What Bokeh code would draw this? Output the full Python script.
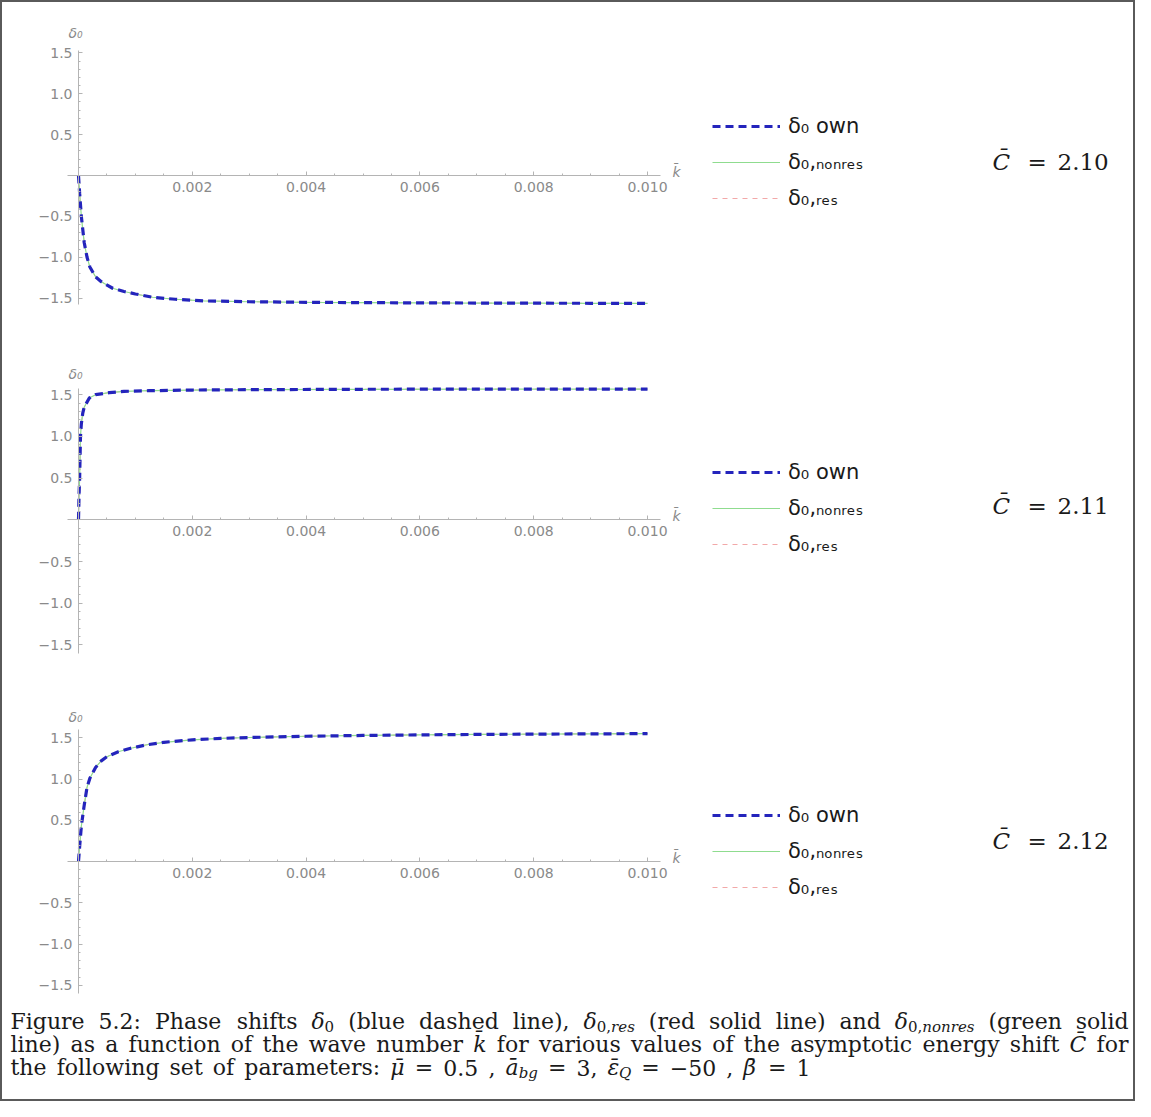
from bokeh.plotting import figure
from bokeh.models import Range1d, LinearAxis, FixedTicker, Label, Legend, LegendItem
from bokeh.embed import file_html
from bokeh.resources import INLINE

# ---------------- data ----------------
K_C210 = [0, 0.00002, 0.00005, 0.0001, 0.00015, 0.0002, 0.0003, 0.0004, 0.0006, 0.0008,
          0.001, 0.0013, 0.0017, 0.0022, 0.003, 0.004, 0.005, 0.006, 0.007, 0.008, 0.009, 0.010]
DELTA_OWN_C210 = [0, -0.22, -0.5, -0.82, -1.0, -1.12, -1.24, -1.30, -1.38, -1.42,
                  -1.45, -1.49, -1.515, -1.535, -1.545, -1.552, -1.556, -1.559, -1.561, -1.563, -1.564, -1.565]
DELTA_NONRES_C210 = list(DELTA_OWN_C210)
DELTA_RES_C210 = list(DELTA_OWN_C210)

K_C211 = [0, 0.00001, 0.00002, 0.000035, 0.00005, 0.000075, 0.0001, 0.00019, 0.0003, 0.00054,
          0.0008, 0.00124, 0.002, 0.003, 0.005, 0.007, 0.010]
DELTA_OWN_C211 = [0, 0.3, 0.5, 1.0, 1.15, 1.28, 1.35, 1.46, 1.50, 1.525,
                  1.54, 1.548, 1.556, 1.56, 1.565, 1.567, 1.568]
DELTA_NONRES_C211 = list(DELTA_OWN_C211)
DELTA_RES_C211 = list(DELTA_OWN_C211)

K_C212 = [0, 0.00002, 0.00005, 0.0001, 0.00015, 0.0002, 0.0003, 0.0004, 0.0005, 0.0007, 0.0009,
          0.0012, 0.0015, 0.002, 0.0025, 0.003, 0.004, 0.005, 0.006, 0.007, 0.008, 0.009, 0.010]
DELTA_OWN_C212 = [0, 0.18, 0.43, 0.68, 0.90, 1.01, 1.14, 1.22, 1.27, 1.33, 1.37,
                  1.415, 1.445, 1.475, 1.492, 1.503, 1.518, 1.528, 1.535, 1.540, 1.544, 1.547, 1.55]
DELTA_NONRES_C212 = list(DELTA_OWN_C212)
DELTA_RES_C212 = list(DELTA_OWN_C212)

C_LABELS = ["2.10", "2.11", "2.12"]

X_TICKS = [0.002, 0.004, 0.006, 0.008, 0.010]
X_TICK_LABELS = ["0.002", "0.004", "0.006", "0.008", "0.010"]
Y_TICKS = [-1.5, -1.0, -0.5, 0.5, 1.0, 1.5]
Y_TICK_LABELS = ["\u22121.5", "\u22121.0", "\u22120.5", "0.5", "1.0", "1.5"]

LEGEND_LABELS = ["\u03b4\u2080 own", "\u03b4\u2080\u201a\u2099\u2092\u2099\u1d63\u2091\u209b",
                 "\u03b4\u2080\u201a\u1d63\u2091\u209b"]

# ---------------- layout constants (pixels) ----------------
W, H = 1135, 1101
OX, OY = 0, 0
K0_PX, PX_PER_K = 78.0, 56900.0   # x position of k=0 and scale
PANEL_Y0 = [175.0, 519.3, 861.0]  # y of delta=0 for each panel
PANEL_S = [81.7, 83.4, 82.5]      # pixels per unit delta
PANEL_YB = [(-1.585, 1.53), (-1.6, 1.58), (-1.6, 1.6)]
LEG_Y = [(127, 162, 198), (472, 508, 544), (814, 851, 887)]
C_Y = [161, 505, 840]

BLUE = "#2424bc"
GREEN = "#8fdc8f"
RED = "#f2a8a8"
AXIS_C = "#b4b4b4"
TICK_C = "#8a8a8a"

x_minor = [i * 0.0005 for i in range(1, 21) if i % 4 != 0]
y_minor = [round(i * 0.1, 2) for i in range(-15, 16) if i % 5 != 0]

p = figure(width=W, height=H, output_backend="svg", toolbar_location=None,
           x_axis_type=None, y_axis_type=None,
           x_range=Range1d(OX, OX + W), y_range=Range1d(OY + H, OY),
           min_border=0, min_border_left=0, min_border_right=0,
           min_border_top=0, min_border_bottom=0)
p.background_fill_color = "white"
p.border_fill_color = "white"
p.outline_line_color = "#5a5a5a"
p.outline_line_width = 3

p.extra_x_ranges = {"k": Range1d((OX - K0_PX) / PX_PER_K, (OX + W - K0_PX) / PX_PER_K)}
for i in range(3):
    y0, s = PANEL_Y0[i], PANEL_S[i]
    p.extra_y_ranges[f"p{i}"] = Range1d((y0 - (OY + H)) / s, (y0 - OY) / s)

series = [
    (K_C210, DELTA_OWN_C210, DELTA_NONRES_C210, DELTA_RES_C210),
    (K_C211, DELTA_OWN_C211, DELTA_NONRES_C211, DELTA_RES_C211),
    (K_C212, DELTA_OWN_C212, DELTA_NONRES_C212, DELTA_RES_C212),
]


def txt(x, y, s, size, font="DejaVu Sans", style="normal", color="#1a1a1a",
        align="left", baseline="middle"):
    p.add_layout(Label(x=x, y=y, text=s, text_font=font, text_font_size=f"{size}px",
                       text_font_style=style, text_color=color, text_align=align,
                       text_baseline=baseline))


for i, (k, own, nonres, res) in enumerate(series):
    yr = f"p{i}"
    xa = LinearAxis(x_range_name="k", y_range_name=yr, fixed_location=0,
                    ticker=FixedTicker(ticks=X_TICKS, minor_ticks=x_minor),
                    bounds=(-0.00019, 0.01023),
                    major_label_overrides=dict(zip(X_TICKS, X_TICK_LABELS)))
    ya = LinearAxis(x_range_name="k", y_range_name=yr, fixed_location=0,
                    ticker=FixedTicker(ticks=Y_TICKS, minor_ticks=y_minor),
                    bounds=PANEL_YB[i],
                    major_label_overrides=dict(zip(Y_TICKS, Y_TICK_LABELS)))
    for ax in (xa, ya):
        ax.axis_line_color = AXIS_C
        ax.major_tick_line_color = AXIS_C
        ax.minor_tick_line_color = AXIS_C
        ax.major_tick_in = 4
        ax.major_tick_out = 0
        ax.minor_tick_in = 2
        ax.minor_tick_out = 0
        ax.major_label_text_font = "DejaVu Sans"
        ax.major_label_text_font_size = "14px"
        ax.major_label_text_color = TICK_C
        ax.major_label_standoff = 6
    p.add_layout(xa, "below")
    p.add_layout(ya, "left")

    r_res = p.line(k, res, x_range_name="k", y_range_name=yr, line_color=RED,
                   line_width=1, line_dash="5 5")
    r_non = p.line(k, nonres, x_range_name="k", y_range_name=yr, line_color=GREEN,
                   line_width=1.2)
    r_own = p.line(k, own, x_range_name="k", y_range_name=yr, line_color=BLUE,
                   line_width=3.2, line_dash="8 5")

    ly = LEG_Y[i]
    leg = Legend(items=[LegendItem(label=LEGEND_LABELS[0], renderers=[r_own]),
                        LegendItem(label=LEGEND_LABELS[1], renderers=[r_non]),
                        LegendItem(label=LEGEND_LABELS[2], renderers=[r_res])],
                 location=(712 - OX, (OY + H) - (ly[2] + 13)),
                 glyph_width=68, glyph_height=26, label_height=26, spacing=10,
                 padding=0, margin=0, label_standoff=8,
                 label_text_font="DejaVu Sans", label_text_font_size="21px",
                 label_text_color="#1a1a1a",
                 background_fill_alpha=0, border_line_alpha=0)
    p.add_layout(leg)

    y0 = PANEL_Y0[i]
    txt(68, [32, 373, 716][i], "\u03b4\u2080", 14, style="italic", color=TICK_C)
    txt(672, y0 - 4, "k\u0304", 14, style="italic", color=TICK_C)

    cy = C_Y[i]
    txt(992, cy, "C\u0304", 23, font="DejaVu Serif", style="italic")
    txt(1027, cy, "=", 23, font="DejaVu Serif")
    txt(1057, cy, C_LABELS[i], 23, font="DejaVu Serif")

# ---------------- caption (word-justified) ----------------
CF = "DejaVu Serif"
CS = 22
SS = 15
SUB_DY = 5
WID = {" ": .318, "(": .390, ")": .390, ",": .318, ".": .318, ":": .337, "=": .838,
       "\u2212": .838, "\u0304": 0.0, "\u03b4": .60, "\u03bc": .66, "\u03b5": .52, "\u03b2": .66,
       "F": .694, "C": .765, "P": .733, "Q": .802,
       "a": .596, "b": .640, "c": .560, "d": .640, "e": .592, "f": .370, "g": .640, "h": .644,
       "i": .320, "j": .310, "k": .606, "l": .320, "m": .948, "n": .644, "o": .602, "p": .640,
       "q": .640, "r": .478, "s": .513, "t": .402, "u": .644, "v": .565, "w": .856, "x": .564,
       "y": .565, "z": .527}
for d in "0123456789":
    WID[d] = .636


def tw(s, size):
    return sum(WID.get(ch, 0.6) for ch in s) * size


def N(s):
    return [(s, "normal", False)]


def I(s):
    return [(s, "italic", False)]


def MATH(sym, sub_up, sub_it=""):
    out = [(sym, "italic", False), (sub_up, "normal", True)]
    if sub_it:
        out.append((sub_it, "italic", True))
    return out


def layout_line(tokens, x_left, x_right, baseline):
    widths = [sum(tw(t, SS if sub else CS) for t, st, sub in tok) for tok in tokens]
    gap = (x_right - x_left - sum(widths)) / (len(tokens) - 1)
    x = x_left
    for tok, w in zip(tokens, widths):
        xx = x
        for t, st, sub in tok:
            size = SS if sub else CS
            txt(xx, baseline + (SUB_DY if sub else 0), t, size, font=CF, style=st,
                baseline="alphabetic")
            xx += tw(t, size)
        x += w + gap


line1 = [N("Figure"), N("5.2:"), N("Phase"), N("shifts"), MATH("\u03b4", "0"),
         N("(blue"), N("dashed"), N("line),"), MATH("\u03b4", "0,", "res"),
         N("(red"), N("solid"), N("line)"), N("and"), MATH("\u03b4", "0,", "nonres"),
         N("(green"), N("solid")]
line2 = [N("line)"), N("as"), N("a"), N("function"), N("of"), N("the"), N("wave"),
         N("number"), I("k\u0304"), N("for"), N("various"), N("values"), N("of"), N("the"),
         N("asymptotic"), N("energy"), N("shift"), I("C\u0304"), N("for")]
line3 = [N("the"), N("following"), N("set"), N("of"), N("parameters:"),
         I("\u03bc\u0304"), N("="), N("0.5"), N(","),
         [("a\u0304", "italic", False), ("bg", "italic", True)], N("="), N("3,"),
         [("\u03b5\u0304", "italic", False), ("Q", "italic", True)], N("="), N("\u221250"), N(","),
         I("\u03b2\u0304"), N("="), N("1")]

layout_line(line1, 10, 1128, 1021)
layout_line(line2, 10, 1128, 1044)
layout_line(line3, 10, 810, 1067)

open("out.html", "w").write(file_html(p, INLINE))
